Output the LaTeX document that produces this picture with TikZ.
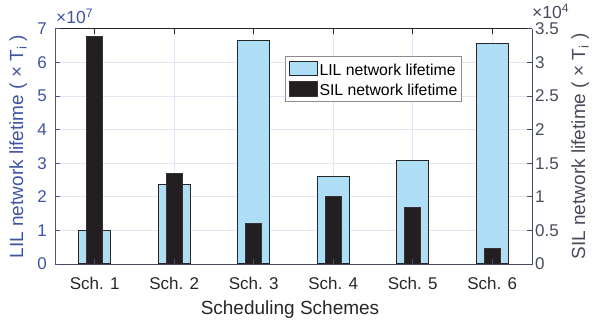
\documentclass[tikz,border=0pt]{standalone}
\usepackage{fontspec}
\setmainfont{Liberation Sans}

\definecolor{lilblue}{RGB}{173,222,245}
\definecolor{silblack}{RGB}{35,31,32}
\definecolor{leftaxis}{RGB}{64,84,166}
\definecolor{rightaxis}{RGB}{72,76,90}
\definecolor{gridgray}{RGB}{228,228,242}

\begin{document}
\begin{tikzpicture}[x=1pt, y=1pt,
  ticklabel/.style = {font=\fontsize{17}{17}\selectfont, inner sep=0pt},
  axislabel/.style = {font=\fontsize{19}{19}\selectfont, inner sep=0pt},
  exponent/.style = {font=\fontsize{17.5}{17.5}\selectfont, inner sep=0pt,
    anchor=base west},
  lilbar/.style = {fill=lilblue, draw=black!85, line width=1.1pt},
  silbar/.style = {fill=silblack, draw=black!80, line width=0.9pt},
  gridrule/.style = {draw=gridgray, line width=0.8pt},
  axisline/.style = {line width=1pt}]

  \useasboundingbox (0,0) rectangle (593,324);

  \begin{scope}[shift={(15.25pt,60pt)}, x=79.5pt, y=33.571pt]
    \foreach \y in {1,...,6}
      \draw[gridrule] (0.5,\y) -- (6.5,\y);
    \foreach \x in {1,...,6}
      \draw[gridrule] (\x,0) -- (\x,7);

    \foreach \x/\lil/\sil in {1/1.0/3.39, 2/2.37/1.35, 3/6.65/0.605,
                              4/2.60/1.0, 5/3.08/0.845, 6/6.57/0.235} {
      \draw[lilbar] (\x-0.2,0) rectangle (\x+0.2,\lil);
      \draw[silbar] (\x-0.1,0) rectangle (\x+0.1,2*\sil);
    }

    \draw[axisline, black!85] (0.5,7) -- (6.5,7);
    \draw[axisline, rightaxis] (0.5,0) -- (6.5,0) -- (6.5,7);
    \draw[axisline, leftaxis] (0.5,0) -- (0.5,7);

    \foreach \x in {1,...,6} {
      \draw[axisline, black!85] (\x,7) -- ++(0,-5pt);
      \draw[axisline, rightaxis] (\x,0) -- ++(0,5pt);
      \node[ticklabel, anchor=base, text=black!85] (sch\x)
        at ([yshift=-25pt]\x,0) {Sch. \x};
    }

    \foreach \y in {0,...,7} {
      \draw[axisline, leftaxis] (0.5,\y) -- ++(5pt,0);
      \node[ticklabel, anchor=east, text=leftaxis] (lily\y)
        at ([xshift=-8pt]0.5,\y) {\y};
    }
    \foreach \y/\r in {0/0, 1/0.5, 2/1, 3/1.5, 4/2, 5/2.5, 6/3, 7/3.5} {
      \draw[axisline, rightaxis] (6.5,\y) -- ++(-5pt,0);
      \node[ticklabel, anchor=west, text=rightaxis] (sily\y)
        at ([xshift=3pt]6.5,\y) {\r};
    }
  \end{scope}

  \node[exponent, text=leftaxis] (lilexp) at (56,300) {×10\textsuperscript{7}};
  \node[exponent, text=rightaxis] (silexp) at (532,305) {×10\textsuperscript{4}};

  \node[axislabel, text=leftaxis, rotate=90, anchor=base] (lilaxis)
    at (23,177.5) {LIL network lifetime ( × T\textsubscript{i} )};
  \node[axislabel, text=rightaxis, rotate=90, anchor=base] (silaxis)
    at (585,177.5) {SIL network lifetime ( × T\textsubscript{i} )};
  \node[axislabel, anchor=base, text=black!85] (xaxis)
    at (290,10) {Scheduling Schemes};

  \draw[draw=black!45, fill=white, line width=0.9pt]
    (285.7,222.3) rectangle (461,267.3);
  \node[lilbar, minimum width=27.5pt, minimum height=14pt, inner sep=0pt,
    anchor=south west] (lilkey) at (289.3,248.3) {};
  \node[silbar, minimum width=27.5pt, minimum height=15pt, inner sep=0pt,
    anchor=south west] (silkey) at (289.3,226.8) {};
  \node[font=\fontsize{15.8}{15.8}\selectfont, inner sep=0pt,
    anchor=base west] (liltext) at (319.3,248) {LIL network lifetime};
  \node[font=\fontsize{15.8}{15.8}\selectfont, inner sep=0pt,
    anchor=base west] (siltext) at (319.3,228) {SIL network lifetime};
\end{tikzpicture}
\end{document}
